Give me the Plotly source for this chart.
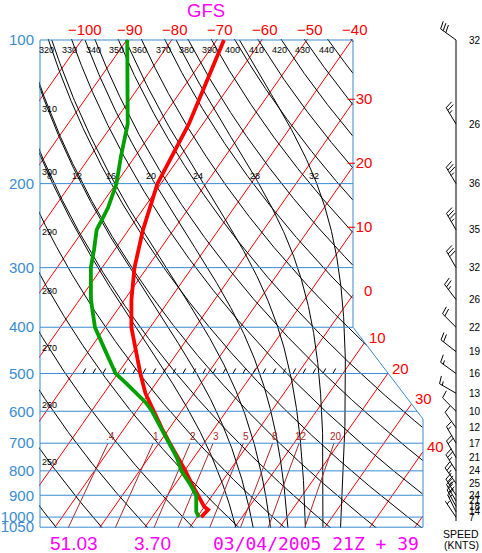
import numpy as np
import plotly.graph_objects as go

# ---------------- data ----------------
temp_p = [100, 150, 200, 250, 300, 350, 400, 450, 500, 550, 600, 650, 700,
          750, 800, 850, 900, 925, 950, 965, 1000]
temp_c = [-68.4, -63.1, -60.8, -56.8, -52.8, -48.5, -44.2, -39.3, -35.0, -30.8,
          -26.2, -21.8, -17.6, -13.5, -9.8, -6.5, -3.2, -1.6, -0.1, 1.3, 0.9]

dewp_p = [100, 150, 175, 200, 225, 250, 275, 300, 350, 400, 450, 475, 500, 525,
          550, 575, 600, 650, 700, 750, 800, 850, 900, 925, 950, 975, 1000]
dewp_c = [-89.9, -76.7, -73.2, -69.9, -68.0, -67.1, -64.6, -62.5, -57.5, -52.3,
          -46.1, -43.2, -40.5, -36.5, -32.8, -29.3, -26.5, -21.9, -17.7, -13.8,
          -10.7, -6.9, -3.6, -2.7, -2.0, -1.0, 0.4]

wind_p = [100, 150, 200, 250, 300, 350, 400, 450, 500, 550, 600, 650, 700, 750,
          800, 850, 900, 925, 950, 975, 1000]
wind_kt = [32, 26, 36, 35, 32, 26, 22, 19, 16, 13, 10, 12, 17, 21, 24, 25, 24,
           21, 18, 14, 7]
wind_dir = [306, 329, 329, 330, 330, 323, 315, 308, 306, 300, 315, 325, 330, 330,
            328, 325, 328, 330, 332, 334, 326]

pressure_ticks = [100, 200, 300, 400, 500, 600, 700, 800, 900, 1000, 1050]
isobar_levels = [200, 300, 400, 500, 600, 700, 800, 900, 1000]
top_temp_ticks = [-100, -90, -80, -70, -60, -50, -40]
isotherm_values = list(range(-110, 60, 10))
right_isotherm_labels = [-30, -20, -10, 0, 10, 20, 30, 40]
theta_values = list(range(230, 460, 10))
theta_top_labels = list(range(320, 450, 10))
theta_left_labels = [250, 260, 270, 280, 290, 300, 310]
thetaw_values = [8, 12, 16, 20, 24, 28, 32]
mixing_values = [0.4, 1, 2, 3, 5, 8, 12, 20]
mixing_labels = [".4", "1", "2", "3", "5", "8", "12", "20"]

footer_left = "51.03"
footer_mid = "3.70"
footer_right = "03/04/2005 21Z + 39"
title_text = "GFS"

# ---------------- geometry of the diagram ----------------
W, H = 482, 553
ML, MR, MT, MB = 39, 0, 10, 25
PW, PH = W - ML - MR, H - MT - MB
K = 207.2            # px per unit ln(p)
Y100 = 40.0          # px row of 100 hPa
DEG_PX = 4.5         # px per deg C along an isobar
SKEW = 0.7015 * K / DEG_PX
X_LEFT = -(197.1 - 40.0) / DEG_PX
X_INNER = X_LEFT + 313.0 / DEG_PX
X_RIGHT = X_LEFT + 383.0 / DEG_PX
P_CORNER = 400.0


def p_at(px):
    return 100.0 * np.exp((px - Y100) / K)


P_KNEE = p_at(419.0)
P_BOTTOM = 1050.0
MAIN_XR = 424.5


def skx(T, p):
    return np.asarray(T, float) + SKEW * np.log(1000.0 / np.asarray(p, float))


def xmax(p):
    p = np.asarray(p, float)
    f = (np.log(p) - np.log(P_CORNER)) / (np.log(P_KNEE) - np.log(P_CORNER))
    f = np.clip(f, 0.0, 1.0)
    return X_INNER + (X_RIGHT - X_INNER) * f


def clipped(X, P):
    X = np.asarray(X, float)
    P = np.asarray(P, float)
    ok = (X <= xmax(P) + 1e-9) & (P >= 99.0) & (P <= 1056.0)
    xs = [float(x) if o else None for x, o in zip(X, ok)]
    ps = [float(q) if o else None for q, o in zip(P, ok)]
    return xs, ps


def family(lines):
    xs, ps = [], []
    for X, P in lines:
        a, b = clipped(X, P)
        xs += a + [None]
        ps += b + [None]
    return xs, ps


def es_hpa(tc):
    return 6.112 * np.exp(17.67 * tc / (tc + 243.5))


def moist_profile(thw):
    Rd, cp, Lv, eps = 287.04, 1005.7, 2.501e6, 0.622

    def f(T, p):
        e = es_hpa(T - 273.15)
        rs = eps * e / (p - e)
        return (Rd * T + Lv * rs) / (cp + Lv * Lv * rs * eps / (Rd * T * T)) / p

    def integ(p0, p1, dp):
        T, p = thw + 273.15, p0
        ps, Ts = [p], [T]
        for _ in range(int(round((p1 - p0) / dp))):
            k1 = f(T, p)
            k2 = f(T + 0.5 * dp * k1, p + 0.5 * dp)
            k3 = f(T + 0.5 * dp * k2, p + 0.5 * dp)
            k4 = f(T + dp * k3, p + dp)
            T += dp * (k1 + 2 * k2 + 2 * k3 + k4) / 6.0
            p += dp
            ps.append(p)
            Ts.append(T)
        return ps, Ts

    pu, Tu = integ(1000.0, 100.0, -2.0)
    pd, Td = integ(1000.0, 1056.0, 2.0)
    P = np.array(pd[::-1] + pu[1:])
    T = np.array(Td[::-1] + Tu[1:]) - 273.15
    return P, T


def td_from_w(w, p):
    e = w * p / (622.0 + w)
    a = np.log(e / 6.112)
    return 243.5 * a / (17.67 - a)


pgrid = np.exp(np.linspace(np.log(99.0), np.log(1056.0), 1000))

fig = go.Figure()

# isotherms
iso = family([(skx(T, pgrid), pgrid) for T in isotherm_values])
fig.add_trace(go.Scatter(x=iso[0], y=iso[1], mode="lines",
                         line=dict(color="#ff0000", width=1), hoverinfo="skip"))

# dry adiabats
dry_lines = []
for th in theta_values:
    T = th * (pgrid / 1000.0) ** 0.2857 - 273.15
    dry_lines.append((skx(T, pgrid), pgrid))
dry = family(dry_lines)
fig.add_trace(go.Scatter(x=dry[0], y=dry[1], mode="lines",
                         line=dict(color="#000000", width=1), hoverinfo="skip"))

# moist adiabats
moist_lines = []
moist_curves = {}
for tw in thetaw_values:
    P, T = moist_profile(tw)
    moist_curves[tw] = (P, T)
    moist_lines.append((skx(T, P), P))
moist = family(moist_lines)
fig.add_trace(go.Scatter(x=moist[0], y=moist[1], mode="lines",
                         line=dict(color="#000000", width=1), hoverinfo="skip"))

# mixing ratio lines
pm = np.exp(np.linspace(np.log(700.0), np.log(1056.0), 150))
mix = family([(skx(td_from_w(w, pm), pm), pm) for w in mixing_values])
fig.add_trace(go.Scatter(x=mix[0], y=mix[1], mode="lines",
                         line=dict(color="#a52a2a", width=1), hoverinfo="skip"))

# isobars
bx, by = [], []
for p in isobar_levels:
    bx += [X_LEFT, float(xmax(p)), None]
    by += [p, p, None]
fig.add_trace(go.Scatter(x=bx, y=by, mode="lines",
                         line=dict(color="#3a8bd0", width=1), hoverinfo="skip"))

# hatch marks along 500 hPa
hx, hy = [], []
x0 = X_LEFT + 43.0 / DEG_PX
for i in range(26):
    xs = x0 + i * 10.0 / DEG_PX
    hx += [xs, xs + 2.7 / DEG_PX, None]
    hy += [500.0, 500.0 * np.exp(-5.0 / K), None]
fig.add_trace(go.Scatter(x=hx, y=hy, mode="lines",
                         line=dict(color="#000000", width=1), hoverinfo="skip"))

# frame
fx = [X_LEFT, X_INNER, X_INNER, X_RIGHT, X_RIGHT, X_LEFT, X_LEFT]
fy = [100, 100, P_CORNER, P_KNEE, P_BOTTOM, P_BOTTOM, 100]
fig.add_trace(go.Scatter(x=fx, y=fy, mode="lines",
                         line=dict(color="#3a8bd0", width=1), hoverinfo="skip"))

# sounding
fig.add_trace(go.Scatter(x=skx(temp_c, temp_p), y=temp_p, mode="lines",
                         line=dict(color="#ff0000", width=3.8), hoverinfo="skip"))
fig.add_trace(go.Scatter(x=skx(dewp_c, dewp_p), y=dewp_p, mode="lines",
                         line=dict(color="#00a000", width=3.8), hoverinfo="skip"))

# ---------------- wind barbs (x2: px units, y2: log p) ----------------
BASE_X = 456.0
STAFF, FEATH, SPACING = 19.0, 8.0, 3.2
wx, wy = [BASE_X, BASE_X, None], [100.0, p_at(521.0), None]
for p, spd, d in zip(wind_p, wind_kt, wind_dir):
    r = np.radians(d)
    u = np.array([np.sin(r), -np.cos(r)])
    n = np.array([-u[1], u[0]])
    fdir = n + 0.3 * u
    fdir /= np.linalg.norm(fdir)
    base = np.array([BASE_X, 0.0])
    tip = base + STAFF * u

    def add(a, b):
        wx.extend([a[0], b[0], None])
        wy.extend([p * np.exp(a[1] / K), p * np.exp(b[1] / K), None])

    add(base, tip)
    s5 = int(round(spd / 5.0))
    full, half = s5 // 2, s5 % 2
    pos = 0
    for _ in range(full):
        st = tip - pos * SPACING * u
        add(st, st + FEATH * fdir)
        pos += 1
    if half:
        if pos == 0:
            pos = 1
        st = tip - pos * SPACING * u
        add(st, st + 0.5 * FEATH * fdir)
fig.add_trace(go.Scatter(x=wx, y=wy, mode="lines", xaxis="x2", yaxis="y2",
                         line=dict(color="#000000", width=1), hoverinfo="skip"))

# ---------------- annotations ----------------
ann = []
FONT = "Liberation Sans"


def paper_x(px):
    return (px - ML) / PW


def paper_y(py):
    return (H - MB - py) / PH


# isotherm labels on the right boundary
for T in right_isotherm_labels:
    diff = skx(T, pgrid) - xmax(pgrid)
    idx = np.where((diff[:-1] > 0) & (diff[1:] <= 0))[0]
    if len(idx) == 0:
        continue
    i = idx[0]
    fr = diff[i] / (diff[i] - diff[i + 1])
    pc = float(np.exp(np.log(pgrid[i]) + fr * (np.log(pgrid[i + 1]) - np.log(pgrid[i]))))
    xc = float(skx(T, pc))
    txt = ("\u2212" + str(abs(T))) if T < 0 else str(T)
    if T <= 0:
        ann.append(dict(x=X_INNER, y=np.log10(pc), xref="x", yref="y", text=txt,
                        showarrow=False, xanchor="right", yanchor="middle",
                        xshift=21, yshift=4, font=dict(color="#ff0000", size=15, family=FONT)))
    else:
        ann.append(dict(x=xc, y=np.log10(pc), xref="x", yref="y", text=txt,
                        showarrow=False, xanchor="left", yanchor="middle",
                        xshift=2, yshift=5, font=dict(color="#ff0000", size=15, family=FONT)))

# dry adiabat labels, top
for th in theta_top_labels:
    T = th * (100.0 / 1000.0) ** 0.2857 - 273.15
    ann.append(dict(x=float(skx(T, 100.0)), y=np.log10(p_at(50.0)), xref="x", yref="y",
                    text=str(th), showarrow=False, xanchor="center", yanchor="middle",
                    xshift=-2, font=dict(color="#000000", size=9, family=FONT)))

# dry adiabat labels, left edge
for th in theta_left_labels:
    T = th * (pgrid / 1000.0) ** 0.2857 - 273.15
    diff = skx(T, pgrid) - (X_LEFT + 2.0)
    idx = np.where((diff[:-1] < 0) & (diff[1:] >= 0))[0]
    if len(idx) == 0:
        continue
    pc = float(pgrid[idx[0]])
    ann.append(dict(x=X_LEFT, y=np.log10(pc), xref="x", yref="y", text=str(th),
                    showarrow=False, xanchor="left", yanchor="middle", xshift=0,
                    font=dict(color="#000000", size=9, family=FONT)))

# moist adiabat labels
for tw in thetaw_values:
    P, T = moist_curves[tw]
    tl = float(np.interp(np.log(193.0), np.log(P[::-1]), T[::-1]))
    ann.append(dict(x=float(skx(tl, 193.0)), y=np.log10(193.0), xref="x", yref="y",
                    text=str(tw), showarrow=False, xanchor="center", yanchor="middle",
                    font=dict(color="#000000", size=9, family=FONT)))

# mixing ratio labels
for w, lab in zip(mixing_values, mixing_labels):
    tdl = float(td_from_w(w, 680.0))
    ann.append(dict(x=float(skx(tdl, 680.0)), y=np.log10(p_at(436.0)), xref="x", yref="y",
                    text=lab, showarrow=False, xanchor="center", yanchor="middle",
                    font=dict(color="#a52a2a", size=10, family=FONT)))

# wind speed labels
for p, spd in zip(wind_p, wind_kt):
    ann.append(dict(x=467.0, y=np.log10(p), xref="x2", yref="y2", text=str(spd),
                    showarrow=False, xanchor="left", yanchor="middle",
                    font=dict(color="#000000", size=10, family=FONT)))
ann.append(dict(x=paper_x(481), y=paper_y(534), xref="paper", yref="paper", text="SPEED",
                showarrow=False, xanchor="right", yanchor="middle",
                font=dict(color="#000000", size=10.5, family=FONT)))
ann.append(dict(x=paper_x(481), y=paper_y(545), xref="paper", yref="paper", text="(KNTS)",
                showarrow=False, xanchor="right", yanchor="middle",
                font=dict(color="#000000", size=10.5, family=FONT)))

# footer / title
ann.append(dict(x=paper_x(74), y=paper_y(543), xref="paper", yref="paper", text=footer_left,
                showarrow=False, xanchor="center", yanchor="middle",
                font=dict(color="#ff00ff", size=19, family=FONT)))
ann.append(dict(x=paper_x(152), y=paper_y(543), xref="paper", yref="paper", text=footer_mid,
                showarrow=False, xanchor="center", yanchor="middle",
                font=dict(color="#ff00ff", size=19, family=FONT)))
ann.append(dict(x=paper_x(316), y=paper_y(543), xref="paper", yref="paper", text=footer_right,
                showarrow=False, xanchor="center", yanchor="middle",
                font=dict(color="#ff00ff", size=18, family="DejaVu Sans Mono")))
ann.append(dict(x=paper_x(206), y=paper_y(10), xref="paper", yref="paper", text=title_text,
                showarrow=False, xanchor="center", yanchor="middle",
                font=dict(color="#ff00ff", size=18.5, family=FONT)))

# ---------------- layout ----------------
main_dom_x = (MAIN_XR - ML) / PW
y_lo_main, y_hi_main = p_at(H - MB), p_at(39.0)
fig.update_layout(
    width=W, height=H,
    margin=dict(l=ML, r=MR, t=MT, b=MB, pad=0),
    paper_bgcolor="white", plot_bgcolor="white",
    showlegend=False,
    font=dict(family=FONT),
    xaxis=dict(domain=[0, main_dom_x], range=[X_LEFT - 1.0 / DEG_PX, X_LEFT + (MAIN_XR - 40.0) / DEG_PX],
               side="top", anchor="y", showgrid=False, zeroline=False, showline=False, ticks="",
               tickvals=[float(skx(t, 100.0)) for t in top_temp_ticks],
               ticktext=["\u2212" + str(abs(t)) for t in top_temp_ticks],
               ticklabelshift=3,
               tickfont=dict(color="#ff0000", size=15, family=FONT)),
    yaxis=dict(domain=[0, (H - MB - 39.0) / PH], type="log",
               range=[np.log10(y_lo_main), np.log10(y_hi_main)], anchor="x",
               showgrid=False, zeroline=False, showline=False, ticks="",
               tickvals=pressure_ticks, ticktext=[str(v) for v in pressure_ticks],
               ticklabelstandoff=4,
               tickfont=dict(color="#3a8bd0", size=15, family=FONT)),
    xaxis2=dict(domain=[main_dom_x, 1.0], range=[MAIN_XR, 482.0], anchor="y2",
                visible=False, showgrid=False, zeroline=False),
    yaxis2=dict(domain=[0, 1.0], type="log", anchor="x2",
                range=[np.log10(p_at(H - MB)), np.log10(p_at(MT))],
                visible=False, showgrid=False, zeroline=False),
    annotations=ann,
)

fig.write_html("out.html", config={"displayModeBar": False},
               post_script="document.body.style.margin='0';document.body.style.overflow='hidden';")
